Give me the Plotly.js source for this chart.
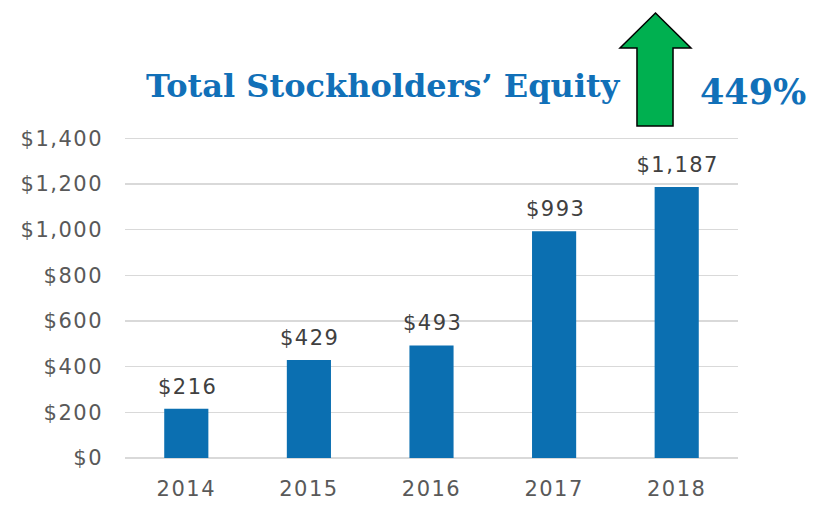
<!DOCTYPE html>
<html>
<head>
<meta charset="utf-8">
<script src="https://cdn.plot.ly/plotly-3.0.1.min.js"></script>
<style>
html,body{margin:0;padding:0;background:#fff;}
#chart{width:813px;height:505px;}
#chart .xtick text, #chart .ytick text{letter-spacing:1.5px;}
#chart .annotation:not([data-index="5"]):not([data-index="6"]) text{letter-spacing:1.5px;}
</style>
</head>
<body>
<div id="chart"></div>
<script>
const years = ['2014', '2015', '2016', '2017', '2018'];
const equity = [216, 429, 493, 993, 1187];
const tickVals = [0, 200, 400, 600, 800, 1000, 1200, 1400];
const tickText = ['$0', '$200', '$400', '$600', '$800', '$1,000', '$1,200', '$1,400'];
const chartTitle = 'Total Stockholders’ Equity';
const growthText = '449%';

const W = 813, H = 505;
const M = {l: 125, r: 75, t: 136, b: 47};
const pw = W - M.l - M.r, ph = H - M.t - M.b;
const px = x => (x - M.l) / pw;
const py = y => (H - M.b - y) / ph;

const fmt = v => '$' + v.toLocaleString('en-US');

const labelFont = {family: 'DejaVu Sans, sans-serif', size: 21, color: '#595959'};

const annotations = years.map((yr, i) => ({
  x: i, y: equity[i], xref: 'x', yref: 'y',
  text: fmt(equity[i]), showarrow: false,
  yanchor: 'bottom', yshift: 8, xshift: 1,
  font: {family: 'DejaVu Sans, sans-serif', size: 21, color: '#404040'}
}));
annotations.push({
  x: px(383), y: py(86), xref: 'paper', yref: 'paper',
  text: '<b>' + chartTitle + '</b>', showarrow: false,
  xanchor: 'center', yanchor: 'middle',
  font: {family: 'DejaVu Serif, serif', size: 32, color: '#1170B8'}
});
annotations.push({
  x: px(753), y: py(91), xref: 'paper', yref: 'paper',
  text: '<b>' + growthText + '</b>', showarrow: false,
  xanchor: 'center', yanchor: 'middle',
  font: {family: 'DejaVu Serif, serif', size: 35, color: '#1170B8'}
});

const arrowPts = [[655.5,13],[691,48],[673,48],[673,126],[637,126],[637,48],[620,48]];
const arrowPath = 'M ' + arrowPts.map(p => px(p[0]).toFixed(4) + ',' + py(p[1]).toFixed(4)).join(' L ') + ' Z';

const data = [{
  type: 'bar', x: years, y: equity,
  marker: {color: '#0B6FB1'},
  hoverinfo: 'none'
}];

const layout = {
  width: W, height: H,
  margin: M,
  paper_bgcolor: '#ffffff', plot_bgcolor: '#ffffff',
  bargap: 0.64,
  showlegend: false,
  xaxis: {
    type: 'category', range: [-0.5, 4.5], autorange: false,
    showgrid: false, zeroline: false, showline: false,
    ticks: '', tickfont: labelFont, ticklabelstandoff: 16
  },
  yaxis: {
    range: [0, 1410], autorange: false, tickvals: tickVals, ticktext: tickText,
    showgrid: true, gridcolor: '#D9D9D9', gridwidth: 1.5,
    zeroline: true, zerolinecolor: '#D9D9D9', zerolinewidth: 1.5,
    showline: false, ticks: '', tickfont: labelFont, ticklabelstandoff: 21
  },
  annotations: annotations,
  shapes: [{
    type: 'path', xref: 'paper', yref: 'paper', path: arrowPath,
    fillcolor: '#00B050', line: {color: '#000000', width: 1.5}, layer: 'above'
  }]
};

Plotly.newPlot('chart', data, layout, {staticPlot: true, displayModeBar: false});
</script>
</body>
</html>
